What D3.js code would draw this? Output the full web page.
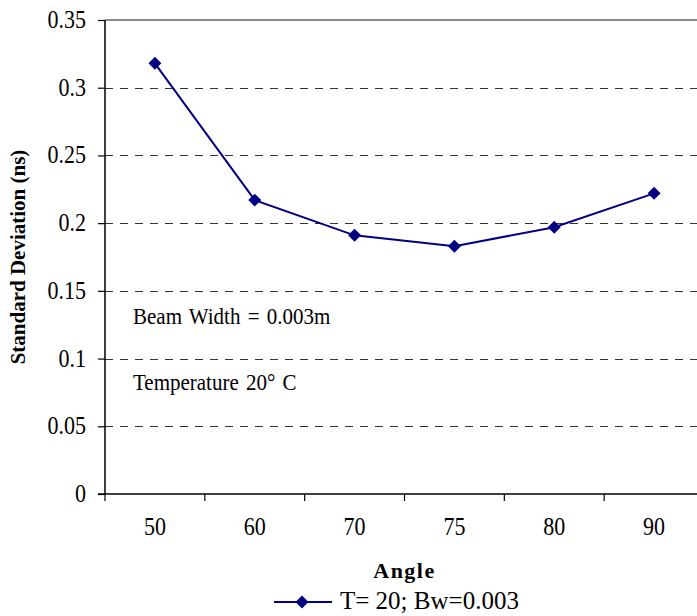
<!DOCTYPE html>
<html>
<head>
<meta charset="utf-8">
<script src="https://cdn.jsdelivr.net/npm/d3@7"></script>
<style>
  html, body { margin: 0; padding: 0; background: #fff; }
  svg { display: block; }
  svg text { font-family: "Liberation Serif", "Times New Roman", serif; fill: #000; }
</style>
</head>
<body>
<svg id="chart" width="697" height="616"></svg>
<script>
// Standard deviation of the measured time versus incidence angle
const angles = ["50", "60", "70", "75", "80", "90"];
const stdDev = [0.318, 0.217, 0.191, 0.183, 0.197, 0.222];
const yTicks = [0, 0.05, 0.1, 0.15, 0.2, 0.25, 0.3, 0.35];
const yTickLabels = ["0", "0.05", "0.1", "0.15", "0.2", "0.25", "0.3", "0.35"];
const seriesName = "T= 20; Bw=0.003";
const notes = ["Beam Width = 0.003m", "Temperature 20\u00B0 C"];

const svg = d3.select("#chart");
const margin = { left: 105, top: 20, right: -7, bottom: 122 };
const W = 697, H = 616;
const x0 = margin.left, x1 = W - margin.right;
const y0 = H - margin.bottom, y1 = margin.top;

const x = d3.scaleBand().domain(angles).range([x0, x1]).padding(0);
const y = d3.scaleLinear().domain([0, 0.35]).range([y0, y1]);
const cx = d => x(d) + x.bandwidth() / 2;

const navy = "#000080";
const SY = 1.13; // glyphs are drawn slightly taller than wide

// place a text with its baseline at (tx, ty), stretched vertically
function putText(g, tx, ty, str, size, anchor, sy) {
  return g.append("text")
    .attr("transform", `translate(${tx},${ty}) scale(1,${sy})`)
    .attr("font-size", size)
    .attr("text-anchor", anchor)
    .text(str);
}

// horizontal dashed gridlines
svg.append("g")
  .selectAll("line")
  .data(yTicks.filter(v => v > 0 && v < 0.35))
  .join("line")
  .attr("x1", x0).attr("x2", x1)
  .attr("y1", d => Math.round(y(d)) + 0.5).attr("y2", d => Math.round(y(d)) + 0.5)
  .attr("stroke", "#333")
  .attr("stroke-width", 1)
  .attr("stroke-dasharray", "8,7");

// top frame line
svg.append("line")
  .attr("x1", x0).attr("x2", x1)
  .attr("y1", y1).attr("y2", y1)
  .attr("stroke", "#8c8c8c").attr("stroke-width", 2);

// y axis (line and ticks from d3, labels placed below)
const yAxis = d3.axisLeft(y).tickValues(yTicks).tickFormat("").tickSize(7);
const gy = svg.append("g").attr("transform", `translate(${x0},0)`).call(yAxis);
gy.select(".domain").attr("stroke", "#000").attr("stroke-width", 1.5).attr("d", `M0,${y1}V${y0}`);
gy.selectAll(".tick line").attr("stroke", "#000").attr("stroke-width", 1.2);
const gyl = svg.append("g");
yTicks.forEach((v, i) => putText(gyl, 86, y(v) + 8, yTickLabels[i], 22, "end", SY));

// x axis: ticks at category boundaries, labels at category centres
const gx = svg.append("g").attr("transform", `translate(0,${y0})`);
gx.append("line").attr("x1", x0 - 7).attr("x2", x1).attr("y1", 0).attr("y2", 0)
  .attr("stroke", "#000").attr("stroke-width", 1.5);
const boundaries = angles.map(a => x(a)).concat([x1]);
gx.selectAll("line.tick").data(boundaries).join("line").attr("class", "tick")
  .attr("x1", d => d).attr("x2", d => d).attr("y1", 0).attr("y2", 7)
  .attr("stroke", "#000").attr("stroke-width", 1.2);
const gxl = svg.append("g");
angles.forEach(a => putText(gxl, cx(a), 535, a, 22, "middle", SY));

// series line and diamond markers
const line = d3.line().x((d, i) => cx(angles[i])).y(d => y(d));
svg.append("path").datum(stdDev)
  .attr("d", line).attr("fill", "none")
  .attr("stroke", navy).attr("stroke-width", 2);

const diamond = d3.symbol().type(d3.symbolSquare).size(84);
svg.append("g").selectAll("path").data(stdDev).join("path")
  .attr("d", diamond)
  .attr("transform", (d, i) => `translate(${cx(angles[i])},${y(d)}) rotate(45)`)
  .attr("fill", navy);

// annotations inside plot
const gn = svg.append("g");
notes.forEach((t, i) => putText(gn, 133, [324, 390][i], t, 21, "start", SY).attr("word-spacing", 2));

// axis titles
putText(svg, (x0 + x1) / 2, 578, "Angle", 22, "middle", 1)
  .attr("font-weight", "bold").attr("letter-spacing", 1.5);

svg.append("text")
  .attr("transform", `translate(25,${(y0 + y1) / 2}) rotate(-90)`)
  .attr("text-anchor", "middle")
  .attr("font-weight", "bold").attr("font-size", 21)
  .text("Standard Deviation (ns)");

// legend
const lg = svg.append("g").attr("transform", "translate(274,602)");
lg.append("line").attr("x1", 0).attr("x2", 58).attr("y1", 0).attr("y2", 0)
  .attr("stroke", navy).attr("stroke-width", 2);
lg.append("path").attr("d", diamond).attr("transform", "translate(28,0) rotate(45)").attr("fill", navy);
lg.append("text").attr("x", 66).attr("y", 7).attr("font-size", 25).text(seriesName);
</script>
</body>
</html>
